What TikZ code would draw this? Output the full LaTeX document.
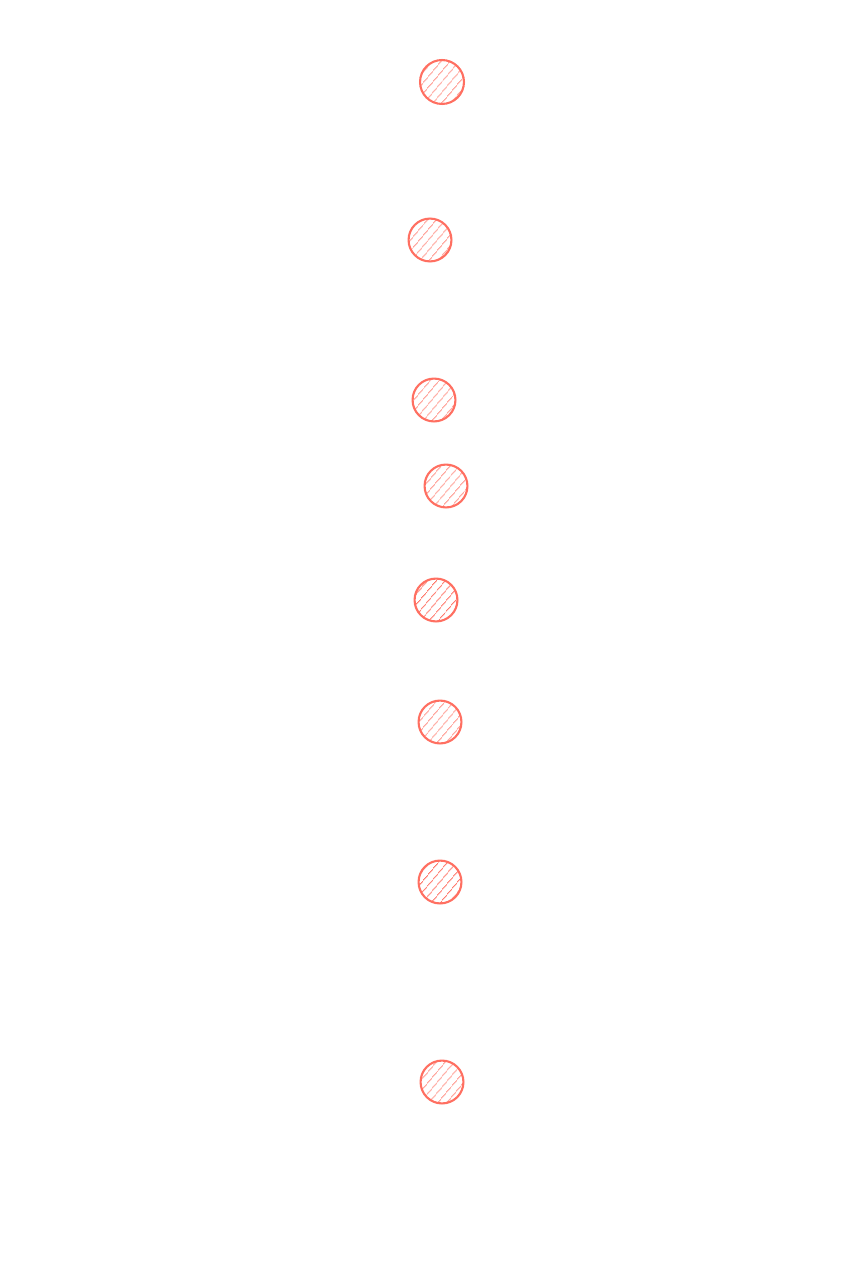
\documentclass[tikz,border=0pt]{standalone}
\usepackage{tikz}
\usetikzlibrary{patterns.meta}
\definecolor{dotred}{HTML}{FF6F61}
\begin{document}
\begin{tikzpicture}[x=0.02cm, y=-0.02cm,
    every node/.style={circle, minimum size=0.9cm-\pgflinewidth, outer sep=0pt},
    dot/.style={draw=dotred, line width=1.2pt, pattern={Lines[angle=50, distance=4pt, line width=0.6pt]}, pattern color=dotred}]
    % Page area
    \useasboundingbox (0,0) rectangle (847,1284);

    % Dots
    \node[dot] (dot1) at (442, 82) {};
    \node[dot] (dot2) at (430, 240) {};
    \node[dot] (dot3) at (434, 400) {};
    \node[dot] (dot4) at (446, 486) {};
    \node[dot] (dot5) at (436, 600) {};
    \node[dot] (dot6) at (440, 722) {};
    \node[dot] (dot7) at (440, 882) {};
    \node[dot] (dot8) at (442, 1082) {};

\end{tikzpicture}
\end{document}
